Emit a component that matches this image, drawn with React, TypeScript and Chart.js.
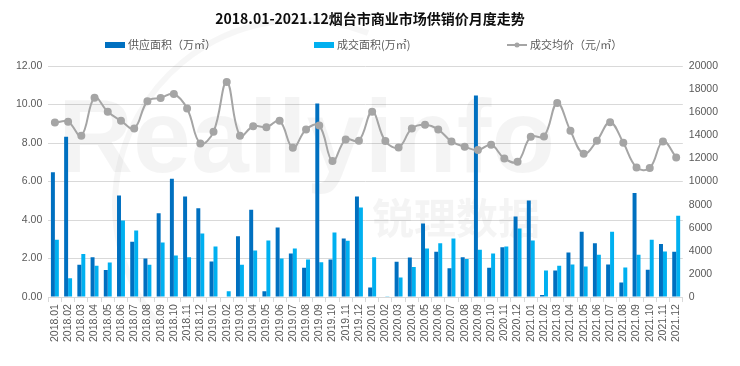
import React, { useEffect, useRef } from 'react';
import { Chart, registerables } from 'chart.js';
Chart.register(...registerables);

const TITLE = '2018.01-2021.12烟台市商业市场供销价月度走势';

const months = [
  '2018.01','2018.02','2018.03','2018.04','2018.05','2018.06','2018.07','2018.08','2018.09','2018.10','2018.11','2018.12',
  '2019.01','2019.02','2019.03','2019.04','2019.05','2019.06','2019.07','2019.08','2019.09','2019.10','2019.11','2019.12',
  '2020.01','2020.02','2020.03','2020.04','2020.05','2020.06','2020.07','2020.08','2020.09','2020.10','2020.11','2020.12',
  '2021.01','2021.02','2021.03','2021.04','2021.05','2021.06','2021.07','2021.08','2021.09','2021.10','2021.11','2021.12',
];

const supplyArea = [
  6.48, 8.33, 1.68, 2.07, 1.40, 5.28, 2.87, 2.00, 4.35, 6.15, 5.22, 4.61,
  1.85, 0, 3.16, 4.54, 0.30, 3.61, 2.26, 1.52, 10.05, 1.95, 3.04, 5.22,
  0.50, 0, 1.83, 2.06, 3.82, 2.35, 1.49, 2.07, 10.47, 1.52, 2.59, 4.18,
  5.01, 0.10, 1.38, 2.32, 3.39, 2.80, 1.69, 0.75, 5.41, 1.42, 2.75, 2.35,
];

const dealArea = [
  2.97, 0.98, 2.23, 1.62, 1.80, 3.97, 3.45, 1.68, 2.83, 2.16, 2.07, 3.30,
  2.63, 0.30, 1.68, 2.42, 2.94, 2.00, 2.52, 1.95, 1.81, 3.35, 2.92, 4.65,
  2.07, 0.04, 1.02, 1.56, 2.52, 2.80, 3.04, 1.97, 2.46, 2.26, 2.63, 3.56,
  2.94, 1.38, 1.62, 1.69, 1.59, 2.20, 3.39, 1.54, 2.20, 2.97, 2.37, 4.22,
];

const avgPrice = [
  15100, 15170, 13960, 17260, 16030, 15250, 14590, 16950, 17240, 17580, 16320, 13290,
  14300, 18620, 13960, 14790, 14700, 15250, 12920, 14500, 14850, 11770, 13640, 13530,
  16030, 13500, 12950, 14590, 14910, 14500, 13470, 13010, 12720, 13180, 12000, 11710,
  13870, 13900, 16800, 14390, 12400, 13530, 15140, 13350, 11220, 11170, 13470, 12090,
];

const seriesNames = ['供应面积（万㎡）', '成交面积(万㎡)', '成交均价（元/㎡）'];
const leftTicks = [0, 2, 4, 6, 8, 10, 12];
const rightTicks = [0, 2000, 4000, 6000, 8000, 10000, 12000, 14000, 16000, 18000, 20000];

const C_SUPPLY = '#0070C0';
const C_DEAL = '#00B0F0';
const C_PRICE = '#A5A5A5';
const C_TEXT = '#595959';
const C_GRID = '#D9D9D9';
const NUM_FONT = '"Liberation Sans", Arial, sans-serif';
const CJK_FONT = '"Noto Sans CJK SC", "Liberation Sans", sans-serif';

const watermarkPlugin = {
  id: 'watermark',
  beforeDatasetsDraw(chart: any) {
    const ctx = chart.ctx;
    ctx.save();
    ctx.fillStyle = 'rgba(0,0,0,0.045)';
    ctx.textBaseline = 'alphabetic';
    ctx.textAlign = 'left';
    ctx.font = 'bold 104px "Liberation Sans", sans-serif';
    ctx.fillText('Reallyinfo', 58, 172);
    ctx.font = 'bold 42px "Noto Sans CJK SC", sans-serif';
    ctx.fillText('锐理数据', 372, 234);
    ctx.strokeStyle = 'rgba(0,0,0,0.035)';
    ctx.lineWidth = 6;
    ctx.beginPath();
    ctx.arc(300, 205, 185, Math.PI * 0.78, Math.PI * 1.62);
    ctx.stroke();
    ctx.restore();
  },
};

const headerPlugin = {
  id: 'header',
  afterDraw(chart: any) {
    const ctx = chart.ctx;
    ctx.save();
    ctx.fillStyle = '#0D0D0D';
    ctx.font = 'bold 14px ' + CJK_FONT;
    ctx.textAlign = 'center';
    ctx.textBaseline = 'middle';
    ctx.fillText(TITLE, 370, 19);

    const starts = [105, 314, 507];
    ctx.font = '11px ' + CJK_FONT;
    ctx.textAlign = 'left';
    chart.data.datasets.forEach((ds: any, i: number) => {
      const x = starts[i];
      const y = 45;
      if (ds.type === 'line') {
        ctx.strokeStyle = ds.borderColor;
        ctx.lineWidth = 2;
        ctx.beginPath();
        ctx.moveTo(x, y);
        ctx.lineTo(x + 20, y);
        ctx.stroke();
        ctx.fillStyle = ds.borderColor;
        ctx.beginPath();
        ctx.arc(x + 10, y, 2.5, 0, Math.PI * 2);
        ctx.fill();
      } else {
        ctx.fillStyle = ds.backgroundColor;
        ctx.fillRect(x, y - 3, 20, 6);
      }
      ctx.fillStyle = C_TEXT;
      ctx.fillText(ds.label, x + 23, y);
    });
    ctx.restore();
  },
};

export default function App() {
  const ref = useRef<HTMLCanvasElement>(null);
  useEffect(() => {
    document.body.style.margin = '0';
    const chart = new Chart(ref.current!, {
      type: 'bar',
      data: {
        labels: months,
        datasets: [
          {
            type: 'bar',
            label: seriesNames[0],
            data: supplyArea,
            backgroundColor: C_SUPPLY,
            yAxisID: 'y',
            order: 2,
            barPercentage: 1,
            categoryPercentage: 0.6,
          },
          {
            type: 'bar',
            label: seriesNames[1],
            data: dealArea,
            backgroundColor: C_DEAL,
            yAxisID: 'y',
            order: 2,
            barPercentage: 1,
            categoryPercentage: 0.6,
          },
          {
            type: 'line',
            label: seriesNames[2],
            data: avgPrice,
            borderColor: C_PRICE,
            backgroundColor: C_PRICE,
            borderWidth: 2,
            tension: 0.4,
            pointRadius: 3,
            pointBackgroundColor: C_PRICE,
            pointBorderColor: C_PRICE,
            yAxisID: 'y1',
            order: 0,
          } as any,
        ],
      },
      options: {
        responsive: false,
        animation: false,
        layout: { padding: { top: 66, left: 10, right: 16, bottom: 22 } },
        plugins: {
          legend: { display: false },
          title: { display: false },
          tooltip: { enabled: false },
        },
        scales: {
          x: {
            offset: true,
            grid: {
              display: true,
              drawOnChartArea: false,
              offset: true,
              color: C_GRID,
              tickLength: 5,
            },
            border: { display: true, color: C_GRID },
            ticks: {
              autoSkip: false,
              minRotation: 90,
              maxRotation: 90,
              padding: 2,
              color: C_TEXT,
              font: { family: NUM_FONT, size: 10.5 },
            },
          },
          y: {
            position: 'left',
            min: 0,
            max: 12,
            afterBuildTicks: (axis: any) => {
              axis.ticks = leftTicks.map((v) => ({ value: v }));
            },
            grid: { color: C_GRID, drawTicks: false },
            border: { display: false },
            ticks: {
              padding: 6,
              color: C_TEXT,
              font: { family: NUM_FONT, size: 10.5 },
              callback: (v: any) => Number(v).toFixed(2),
            },
          },
          y1: {
            position: 'right',
            min: 0,
            max: 20000,
            afterBuildTicks: (axis: any) => {
              axis.ticks = rightTicks.map((v) => ({ value: v }));
            },
            grid: { drawOnChartArea: false, drawTicks: false },
            border: { display: false },
            ticks: {
              padding: 6,
              color: C_TEXT,
              font: { family: NUM_FONT, size: 10.5 },
              callback: (v: any) => String(v),
            },
          },
        },
      },
      plugins: [watermarkPlugin, headerPlugin],
    });
    return () => chart.destroy();
  }, []);
  return (
    <div style={{ width: 740, height: 366, position: 'relative', background: '#fff' }}>
      <canvas ref={ref} width={740} height={366} style={{ width: 740, height: 366, display: 'block' }} />
    </div>
  );
}
